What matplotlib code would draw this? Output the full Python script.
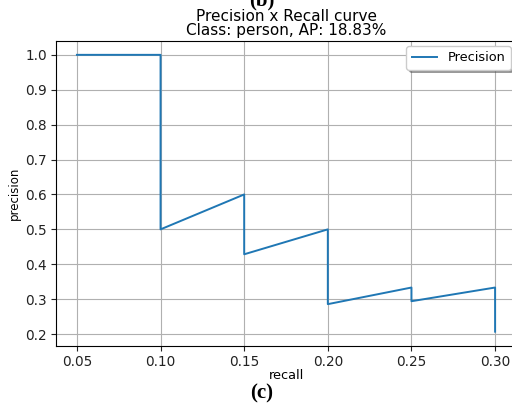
import matplotlib
matplotlib.use("Agg")
import matplotlib.pyplot as plt

# precision / recall points (20 ground truths)
recall = [0.05, 0.10, 0.10, 0.15, 0.15, 0.20, 0.20, 0.25, 0.25, 0.30, 0.30]
precision = [1.0, 1.0, 0.5, 0.6, 3/7, 0.5, 4/14, 5/15, 5/17, 6/18, 6/29]
xticks = [0.05, 0.10, 0.15, 0.20, 0.25, 0.30]
yticks = [0.2, 0.3, 0.4, 0.5, 0.6, 0.7, 0.8, 0.9, 1.0]

fig = plt.figure(figsize=(5.12, 4.05), dpi=100)
ax = fig.add_axes([56/512, 59.5/405, 460/512, 304.5/405])
ax.plot(recall, precision, color="#1f77b4", lw=1.4, label="Precision")
ax.set_xticks(xticks)
ax.set_yticks(yticks)
ax.tick_params(labelsize=9.8, colors="#222222", pad=3)
ax.set_xlabel("recall", fontsize=9.3, labelpad=0)
ax.set_ylabel("precision", fontsize=8.5, labelpad=3)
ax.set_title("Precision x Recall curve\nClass: person, AP: 18.83%", fontsize=11, pad=4, linespacing=0.95)
ax.grid(True)
ax.legend(loc="upper right", shadow=True, fontsize=9.3, borderaxespad=0.4)

fig.text(262/512, 1 - 0/405, "(b)", ha="center", va="center", family="Liberation Serif",
         weight="bold", fontsize=15)
fig.text(262/512, 1 - 393/405, "(c)", ha="center", va="center", family="Liberation Serif",
         weight="bold", fontsize=15)

fig.savefig("out.png", dpi=100)
